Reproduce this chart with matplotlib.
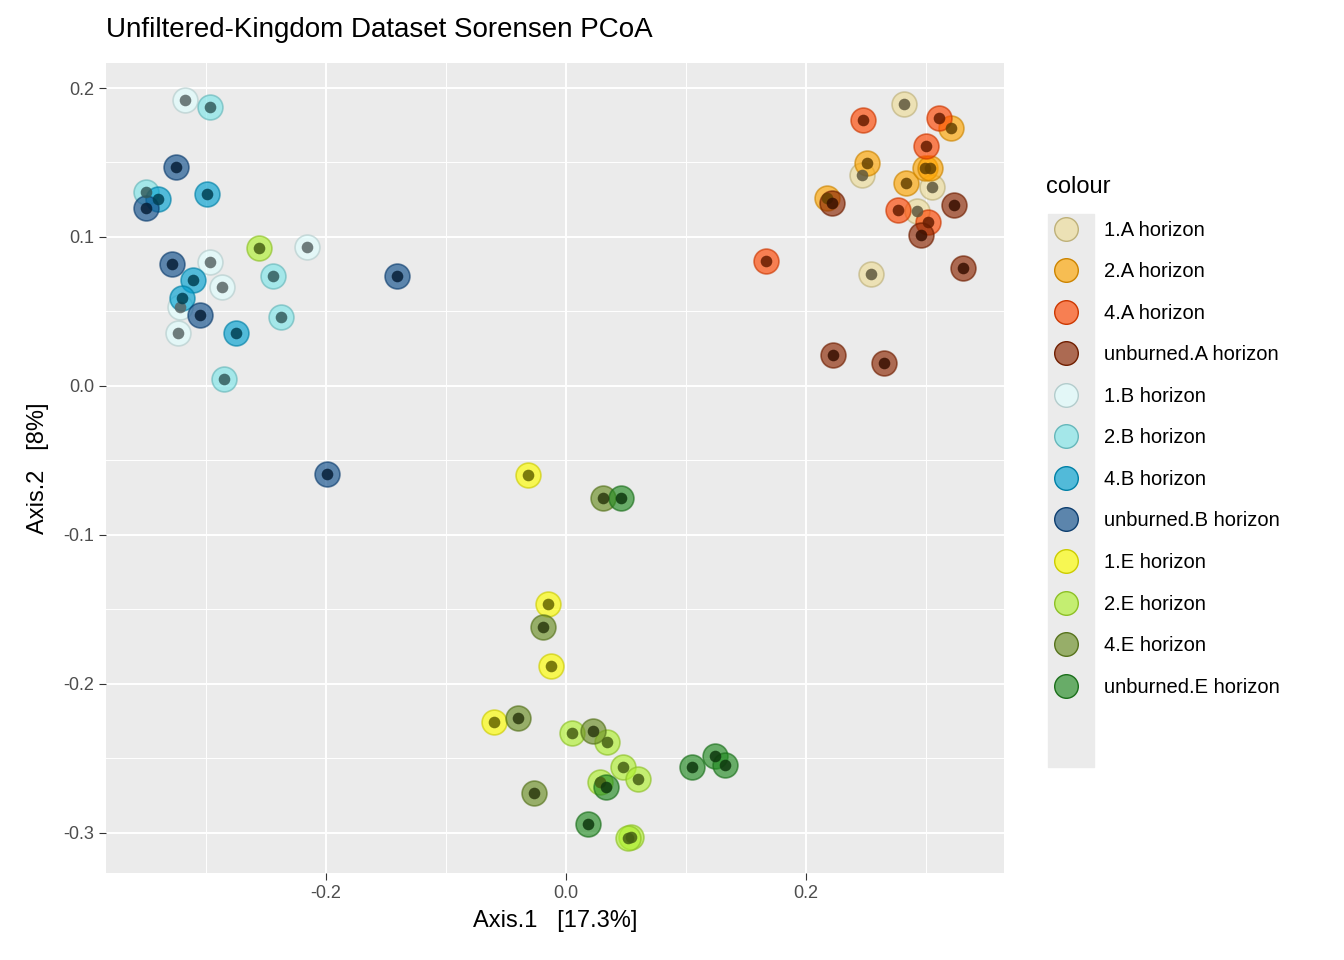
import matplotlib
matplotlib.use("Agg")
import matplotlib.pyplot as plt
from matplotlib.lines import Line2D
import matplotlib.colors as mc
import numpy as np

plt.rcParams['font.family'] = ['Liberation Sans', 'DejaVu Sans']

groups = ["1.A horizon","2.A horizon","4.A horizon","unburned.A horizon",
          "1.B horizon","2.B horizon","4.B horizon","unburned.B horizon",
          "1.E horizon","2.E horizon","4.E horizon","unburned.E horizon"]
colors = ["#EEDD99","#FFA500","#FF4500","#8B2500",
          "#E0FFFF","#7FE5E8","#00A0D0","#104E8B",
          "#FFFF00","#B0F030","#6B8E23","#228B22"]

def px(pts):
    return [((a-566)/1200, (386-b)/1490) for a, b in pts]

pts = {
 "1.A horizon": px([(904,104),(862,175),(932,187),(917,211),(871,274)]),
 "2.A horizon": px([(951,128),(867,163),(906,183),(925,168),(930,168),(827,198)]),
 "4.A horizon": px([(863,120),(939,118),(926,146),(898,210),(928,222),(766,261)]),
 "unburned.A horizon": px([(832,203),(921,235),(954,205),(963,268),(833,355),(884,363)]),
 "1.B horizon": px([(185,100),(307,247),(210,262),(222,287),(178,333),(180,307)]),
 "2.B horizon": px([(210,107),(146,192),(273,276),(281,317),(224,379)]),
 "4.B horizon": px([(207,194),(158,199),(193,280),(182,298),(236,333)]),
 "unburned.B horizon": px([(176,167),(146,208),(172,264),(200,315),(397,276),(327,474)]),
 "1.E horizon": px([(528,475),(548,604),(551,666),(494,722)]),
 "2.E horizon": px([(259,248),(572,733),(607,742),(623,767),(600,782),(638,779),(631,837),(628,838)]),
 "4.E horizon": px([(603,498),(543,627),(518,718),(593,731),(534,793)]),
 "unburned.E horizon": px([(621,498),(692,767),(715,756),(725,765),(606,787),(588,824)]),
}

def dark(c, f=0.4):
    r, g, b = mc.to_rgb(c)
    return (r*f, g*f, b*f)

fig = plt.figure(figsize=(13.44, 9.6), dpi=100)
ax = fig.add_axes([106/1344, 1-873/960, 898/1344, 810/960])
ax.set_facecolor("#EBEBEB")
for g, c in zip(groups, colors):
    a = np.array(pts[g])
    ax.scatter(a[:,0], a[:,1], s=320, color=c, alpha=0.65, edgecolors=dark(c,0.8), linewidths=1.2, zorder=3)
    ax.scatter(a[:,0], a[:,1], s=70, color=dark(c), alpha=0.85, linewidths=0, zorder=4)

ax.set_xlim(-0.383, 0.365)
ax.set_ylim(-0.327, 0.2168)
ax.set_xticks([-0.2, 0.0, 0.2])
ax.set_xticklabels(["-0.2", "0.0", "0.2"])
ax.set_yticks([-0.3, -0.2, -0.1, 0.0, 0.1, 0.2])
ax.set_yticklabels(["-0.3", "-0.2", "-0.1", "0.0", "0.1", "0.2"])
ax.set_xticks([-0.3, -0.1, 0.1, 0.3], minor=True)
ax.set_yticks([-0.25, -0.15, -0.05, 0.05, 0.15], minor=True)
ax.grid(True, which="major", color="white", linewidth=1.4, zorder=0)
ax.grid(True, which="minor", color="white", linewidth=0.7, zorder=0)
ax.set_axisbelow(True)
for s in ax.spines.values():
    s.set_visible(False)
ax.tick_params(which="major", colors="#333333", labelsize=13, length=5, color="#333333")
ax.tick_params(which="minor", length=0)
for lbl in ax.get_xticklabels() + ax.get_yticklabels():
    lbl.set_color("#4D4D4D")
ax.set_xlabel("Axis.1   [17.3%]", fontsize=17, labelpad=6)
ax.set_ylabel("Axis.2   [8%]", fontsize=17, labelpad=10)
fig.text(106/1344, 1-30/960, "Unfiltered-Kingdom Dataset Sorensen PCoA", fontsize=20, va="center")

handles = [Line2D([], [], marker="o", linestyle="", markersize=17, markerfacecolor=mc.to_rgba(c, 0.65),
                  markeredgecolor=dark(c, 0.8)) for c in colors]
leg = fig.legend(handles, groups, loc="upper left", bbox_to_anchor=(1038/1344, 1-168/960),
                 frameon=False, title="colour", fontsize=14.5, title_fontsize=17,
                 labelspacing=1.12, handletextpad=0.9, borderaxespad=0)
leg._legend_box.align = "left"
fig.patches.append(plt.Rectangle((1048/1344, 1-767/960), 46/1344, 553/960,
                   transform=fig.transFigure, color="#EBEBEB", zorder=-1))
fig.savefig("out.png", dpi=100)
